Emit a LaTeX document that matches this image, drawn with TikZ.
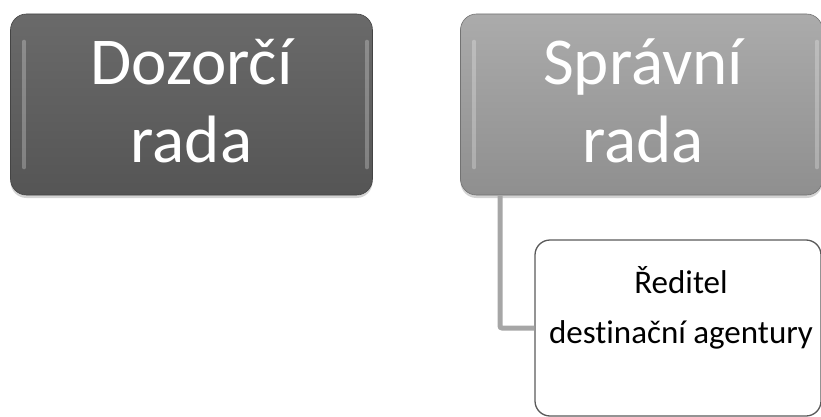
\documentclass[tikz,border=0pt]{standalone}
\usepackage{fontspec}
\setmainfont[Ligatures={NoCommon}]{Carlito}
\usetikzlibrary{shadows}
\definecolor{darkA}{HTML}{6A6A6A}
\definecolor{darkB}{HTML}{555555}
\definecolor{lightA}{HTML}{ABABAB}
\definecolor{lightB}{HTML}{8F8F8F}
\definecolor{connc}{HTML}{A6A6A6}
\definecolor{edgec}{HTML}{5A5A5A}
\tikzset{
  bigbox/.style={rounded corners=16pt, minimum width=362pt, minimum height=181pt,
    inner sep=0pt, drop shadow={opacity=0.35, shadow xshift=0pt, shadow yshift=-3pt}},
  darkbox/.style={bigbox, top color=darkA, bottom color=darkB, draw=darkB!80!black, line width=0.6pt},
  lightbox/.style={bigbox, top color=lightA, bottom color=lightB, draw=lightB!80!black, line width=0.6pt},
  bigtext/.style={anchor=base, text=white, inner sep=0pt, font=\fontsize{67}{77}\selectfont},
  smalltext/.style={anchor=base, text=black, inner sep=0pt, font=\fontsize{33}{40}\selectfont},
  subbox/.style={rounded corners=15pt, minimum width=286pt, minimum height=176pt,
    inner sep=0pt, fill=white, draw=edgec, line width=1.3pt},
  conn/.style={draw=connc, line width=5pt, rounded corners=2pt},
  bevel/.style={line width=4pt, line cap=round, opacity=0.25}
}
\begin{document}
\begin{tikzpicture}[x=1pt,y=-1pt]
\useasboundingbox (0,0) rectangle (821,417);
% boxes
\node[darkbox] (b1) at (191.5,104.5) {};
\node[lightbox] (b2) at (641.5,104.5) {};
% bevel highlights
\draw[bevel, white] ([xshift=14pt,yshift=-28pt]b1.north west) -- ([xshift=14pt,yshift=28pt]b1.south west);
\draw[bevel, white] ([xshift=-6pt,yshift=-28pt]b1.north east) -- ([xshift=-6pt,yshift=28pt]b1.south east);
\draw[bevel, white] ([xshift=14pt,yshift=-28pt]b2.north west) -- ([xshift=14pt,yshift=28pt]b2.south west);
\draw[bevel, white] ([xshift=-6pt,yshift=-28pt]b2.north east) -- ([xshift=-6pt,yshift=28pt]b2.south east);
% texts
\node[bigtext] (t1a) at (191.5,85) {Dozorčí};
\node[bigtext] (t1b) at (191.5,162) {rada};
\node[bigtext] (t2a) at (643,85) {Správní};
\node[bigtext] (t2b) at (643,162) {rada};
% sub box
\node[subbox] (b3) at (678,328) {};
\coordinate (cx) at (500,0);
\draw[conn] (b2.south -| cx) |- (b3.west);
\node[smalltext] (t3a) at (681,293) {Ředitel};
\node[smalltext] (t3b) at (681,343) {destinační agentury};
\end{tikzpicture}
\end{document}
